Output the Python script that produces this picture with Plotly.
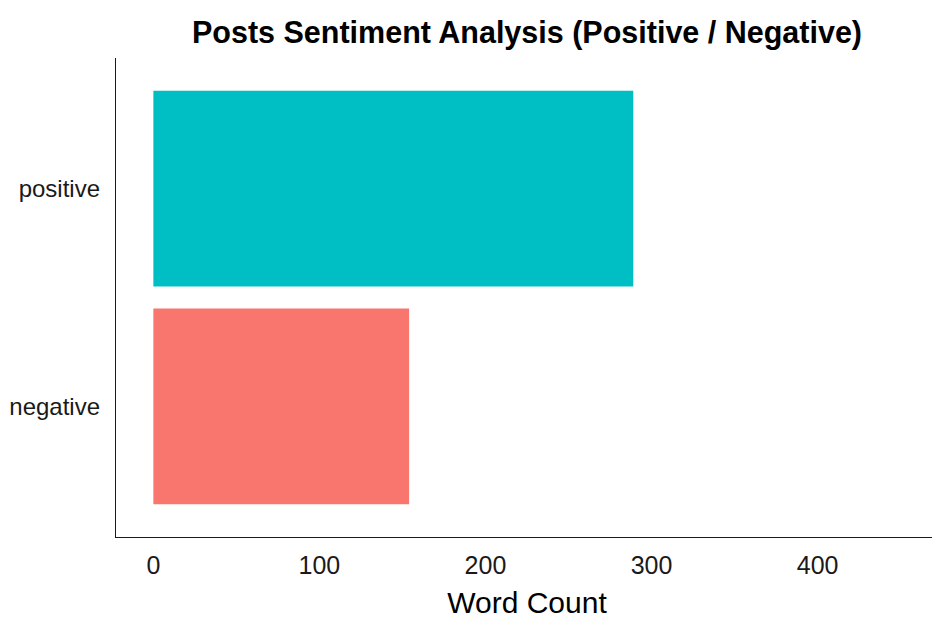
import plotly.graph_objects as go

categories = ["negative", "positive"]
counts = [154, 289]
colors = ["#F8766D", "#00BFC4"]
x_ticks = [0, 100, 200, 300, 400]

fig = go.Figure(go.Bar(
    x=counts, y=categories, orientation="h",
    marker=dict(color=colors, line=dict(width=0)),
    width=0.9,
))

font_family = "Liberation Sans, Arial, sans-serif"
# the page adds an 8px offset at top/left, so the figure is sized to fit the window
fig.update_layout(
    width=932, height=611,
    margin=dict(l=108, r=2, t=50, b=82, autoexpand=False),
    paper_bgcolor="white", plot_bgcolor="white",
    showlegend=False,
    font=dict(family=font_family, color="#1a1a1a"),
    title=dict(
        text="<b>Posts Sentiment Analysis (Positive / Negative)</b>",
        x=0.5, xref="paper", xanchor="center",
        y=1 - 24 / 611, yref="container", yanchor="middle",
        font=dict(size=30.5, color="black", family=font_family),
    ),
    xaxis=dict(
        range=[-22.5, 472.5], tickvals=x_ticks,
        showgrid=False, zeroline=False, automargin=False,
        showline=True, linecolor="#1a1a1a", linewidth=1.3,
        ticks="", tickfont=dict(size=25, color="#1a1a1a"),
        title=dict(text="Word Count", font=dict(size=30, color="black"), standoff=20),
    ),
    yaxis=dict(
        range=[-0.6, 1.6], categoryorder="array", categoryarray=categories,
        showgrid=False, zeroline=False, automargin=False,
        showline=True, linecolor="#1a1a1a", linewidth=1.3,
        ticks="", ticklen=0, tickfont=dict(size=24, color="#1a1a1a"),
    ),
)
fig.update_xaxes(ticklabelstandoff=6)
fig.update_yaxes(ticklabelstandoff=10)
fig.write_html("out.html")
